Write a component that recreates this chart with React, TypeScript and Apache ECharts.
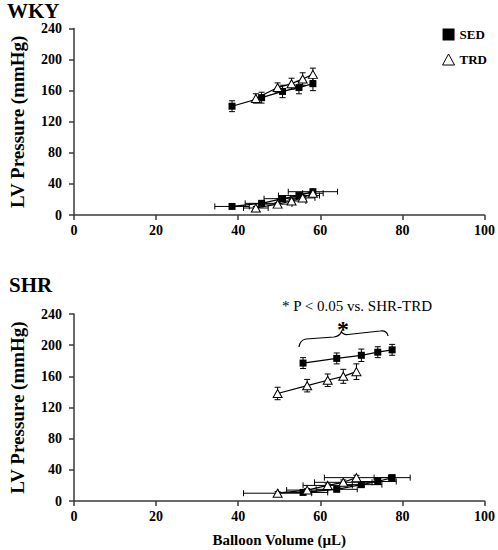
import React, { useEffect, useRef } from "react";
import * as echarts from "echarts";

// ---------- Data ----------
const volumeRange = [0, 100];
const volumeInterval = 20;
const pressureRange = [0, 240];
const pressureInterval = 40;

// WKY – sedentary
const wkySedVolume = [38.5, 45.7, 50.8, 54.8, 58.2];
const wkySedVolumeErr = [4.2, 4.0, 4.5, 5.0, 6.0];
const wkySedSystolic = [140, 151, 159, 164, 169];
const wkySedSystolicErr = [7, 7, 8, 8, 9];
const wkySedDiastolic = [11, 15, 21, 25, 30];
const wkySedDiastolicErr = [2, 2, 2, 3, 3];

// WKY – trained
const wkyTrdVolume = [44.3, 49.6, 53.0, 55.7, 58.2];
const wkyTrdVolumeErr = [3.0, 3.5, 3.5, 3.0, 2.5];
const wkyTrdSystolic = [150, 164, 169, 175, 181];
const wkyTrdSystolicErr = [6, 6, 7, 8, 8];
const wkyTrdDiastolic = [9, 14, 18, 22, 28];
const wkyTrdDiastolicErr = [2, 2, 2, 3, 3];

// SHR – sedentary
const shrSedVolume = [55.8, 64.0, 70.0, 74.0, 77.5];
const shrSedVolumeErr = [6.0, 5.0, 5.0, 4.5, 4.4];
const shrSedSystolic = [177, 183, 187, 191, 194];
const shrSedSystolicErr = [7, 7, 8, 7, 7];
const shrSedDiastolic = [11, 15, 21, 25, 30];
const shrSedDiastolicErr = [2, 2, 2, 3, 3];

// SHR – trained
const shrTrdVolume = [49.6, 56.8, 61.8, 65.6, 68.8];
const shrTrdVolumeErr = [8.3, 5.0, 6.0, 7.0, 7.8];
const shrTrdSystolic = [138, 148, 155, 160, 166];
const shrTrdSystolicErr = [8, 8, 8, 9, 10];
const shrTrdDiastolic = [10, 14, 20, 24, 30];
const shrTrdDiastolicErr = [2, 2, 2, 3, 3];

const panelTitles = ["WKY", "SHR"];
const groupNames = ["SED", "TRD"];
const yAxisTitle = "LV Pressure (mmHg)";
const xAxisTitle = "Balloon Volume (µL)";
const annotationText = "* P < 0.05 vs. SHR-TRD";

// ---------- helpers ----------
const SERIF = "'Liberation Serif', 'Times New Roman', serif";

const pts = (xs: number[], ys: number[]) => xs.map((x, i) => [x, ys[i]]);
const errPts = (xs: number[], ys: number[], xe: number[] | null, ye: number[] | null) =>
  xs.map((x, i) => [x, ys[i], xe ? xe[i] : 0, ye ? ye[i] : 0]);

const errorRenderItem = (params: any, api: any) => {
  const x = api.value(0);
  const y = api.value(1);
  const xe = api.value(2);
  const ye = api.value(3);
  const style = { stroke: "#000", lineWidth: 1 };
  const cap = 3;
  const children: any[] = [];
  if (ye > 0) {
    const t = api.coord([x, y + ye]);
    const b = api.coord([x, y - ye]);
    children.push({ type: "line", shape: { x1: t[0], y1: t[1], x2: b[0], y2: b[1] }, style });
    children.push({ type: "line", shape: { x1: t[0] - cap, y1: t[1], x2: t[0] + cap, y2: t[1] }, style });
    children.push({ type: "line", shape: { x1: b[0] - cap, y1: b[1], x2: b[0] + cap, y2: b[1] }, style });
  }
  if (xe > 0) {
    const l = api.coord([x - xe, y]);
    const r = api.coord([x + xe, y]);
    children.push({ type: "line", shape: { x1: l[0], y1: l[1], x2: r[0], y2: r[1] }, style });
    children.push({ type: "line", shape: { x1: l[0], y1: l[1] - cap, x2: l[0], y2: l[1] + cap }, style });
    children.push({ type: "line", shape: { x1: r[0], y1: r[1] - cap, x2: r[0], y2: r[1] + cap }, style });
  }
  return { type: "group", children };
};

const sedLine = (data: number[][], idx: number) => ({
  type: "line",
  name: groupNames[0],
  xAxisIndex: idx,
  yAxisIndex: idx,
  data,
  symbol: "rect",
  symbolSize: 7,
  itemStyle: { color: "#000", borderColor: "#000", borderWidth: 0 },
  lineStyle: { color: "#000", width: 1.2 },
  z: 5,
});

const trdLine = (data: number[][], idx: number) => ({
  type: "line",
  name: groupNames[1],
  xAxisIndex: idx,
  yAxisIndex: idx,
  data,
  symbol: "triangle",
  symbolSize: [9, 8],
  itemStyle: { color: "#fff", borderColor: "#000", borderWidth: 1 },
  lineStyle: { color: "#000", width: 1.2 },
  z: 6,
});

const errSeries = (data: number[][], idx: number) => ({
  type: "custom",
  xAxisIndex: idx,
  yAxisIndex: idx,
  data,
  renderItem: errorRenderItem,
  encode: { x: 0, y: 1 },
  silent: true,
  z: 3,
});

const axisLineStyle = { lineStyle: { color: "#3a3a3a", width: 1.5 } };
const tickStyle = { show: true, inside: false, length: 5, lineStyle: { color: "#3a3a3a", width: 1.5 } };
const labelStyle = { color: "#000", fontFamily: SERIF, fontWeight: "bold" as const, fontSize: 14 };

const makeXAxis = (idx: number, withName: boolean) => ({
  type: "value",
  gridIndex: idx,
  min: volumeRange[0],
  max: volumeRange[1],
  interval: volumeInterval,
  axisLine: { show: true, ...axisLineStyle },
  axisTick: tickStyle,
  splitLine: { show: false },
  axisLabel: { ...labelStyle, margin: 8 },
  name: withName ? xAxisTitle : "",
  nameLocation: "middle",
  nameGap: 31,
  nameTextStyle: { color: "#000", fontFamily: SERIF, fontWeight: "bold", fontSize: 15 },
});

const makeYAxis = (idx: number) => ({
  type: "value",
  gridIndex: idx,
  min: pressureRange[0],
  max: pressureRange[1],
  interval: pressureInterval,
  axisLine: { show: true, ...axisLineStyle },
  axisTick: tickStyle,
  splitLine: { show: false },
  axisLabel: { ...labelStyle, margin: 12 },
  name: yAxisTitle,
  nameLocation: "middle",
  nameRotate: 90,
  nameGap: 47,
  nameTextStyle: { color: "#000", fontFamily: SERIF, fontWeight: "bold", fontSize: 19 },
});

const bracePath =
  "M299,347 Q300,340 306,339 L334,337 Q340,336 341.5,331.5 Q343,335 348,334.5 L380,331 Q387,330 388,336";

let braceRegistered = false;

export default function App() {
  const ref = useRef<HTMLDivElement>(null);

  useEffect(() => {
    if (!ref.current) return;
    if (!braceRegistered) {
      echarts.graphic.registerShape("brace", echarts.graphic.extendPath(bracePath, {}));
      braceRegistered = true;
    }
    const chart = echarts.init(ref.current, null, { renderer: "svg" });

    const option: any = {
      animation: false,
      backgroundColor: "#fff",
      textStyle: { fontFamily: SERIF },
      title: [
        {
          text: panelTitles[0],
          left: 2,
          top: -5,
          textStyle: { fontFamily: SERIF, fontWeight: "bold", fontSize: 21, color: "#000" },
        },
        {
          text: panelTitles[1],
          left: 4,
          top: 269,
          textStyle: { fontFamily: SERIF, fontWeight: "bold", fontSize: 21, color: "#000" },
        },
      ],
      legend: {
        orient: "vertical",
        right: 6,
        top: 23,
        itemGap: 12,
        itemWidth: 12,
        itemHeight: 12,
        textStyle: { fontFamily: SERIF, fontWeight: "bold", fontSize: 13, color: "#000" },
        data: [
          { name: groupNames[0], icon: "rect", itemStyle: { color: "#000" } },
          {
            name: groupNames[1],
            icon: "path://M6,0L12,11L0,11Z",
            itemStyle: { color: "#fff", borderColor: "#000", borderWidth: 1 },
          },
        ],
      },
      grid: [
        { left: 67, right: 12, top: 28.5, height: 186.5 },
        { left: 67, right: 12, top: 314, height: 187 },
      ],
      xAxis: [makeXAxis(0, false), makeXAxis(1, true)],
      yAxis: [makeYAxis(0), makeYAxis(1)],
      series: [
        // WKY
        errSeries(errPts(wkySedVolume, wkySedSystolic, null, wkySedSystolicErr), 0),
        errSeries(errPts(wkyTrdVolume, wkyTrdSystolic, null, wkyTrdSystolicErr), 0),
        errSeries(errPts(wkySedVolume, wkySedDiastolic, wkySedVolumeErr, wkySedDiastolicErr), 0),
        errSeries(errPts(wkyTrdVolume, wkyTrdDiastolic, wkyTrdVolumeErr, wkyTrdDiastolicErr), 0),
        sedLine(pts(wkySedVolume, wkySedSystolic), 0),
        trdLine(pts(wkyTrdVolume, wkyTrdSystolic), 0),
        sedLine(pts(wkySedVolume, wkySedDiastolic), 0),
        trdLine(pts(wkyTrdVolume, wkyTrdDiastolic), 0),
        // SHR
        errSeries(errPts(shrSedVolume, shrSedSystolic, null, shrSedSystolicErr), 1),
        errSeries(errPts(shrTrdVolume, shrTrdSystolic, null, shrTrdSystolicErr), 1),
        errSeries(errPts(shrSedVolume, shrSedDiastolic, shrSedVolumeErr, shrSedDiastolicErr), 1),
        errSeries(errPts(shrTrdVolume, shrTrdDiastolic, shrTrdVolumeErr, shrTrdDiastolicErr), 1),
        sedLine(pts(shrSedVolume, shrSedSystolic), 1),
        trdLine(pts(shrTrdVolume, shrTrdSystolic), 1),
        sedLine(pts(shrSedVolume, shrSedDiastolic), 1),
        trdLine(pts(shrTrdVolume, shrTrdDiastolic), 1),
      ],
      graphic: [
        {
          type: "text",
          left: 282,
          top: 298,
          style: { text: annotationText, fontFamily: SERIF, fontSize: 15, fill: "#000" },
        },
        {
          type: "text",
          x: 343,
          y: 329,
          style: {
            text: "*",
            fontFamily: SERIF,
            fontSize: 24,
            fontWeight: "bold",
            fill: "#000",
            align: "center",
            verticalAlign: "middle",
          },
        },
        {
          type: "brace",
          x: 0,
          y: 0,
          style: { stroke: "#000", fill: "none", lineWidth: 1.2 },
        },
      ],
    };

    chart.setOption(option);
    return () => chart.dispose();
  }, []);

  return (
    <div
      ref={ref}
      style={{ position: "fixed", left: 0, top: 0, width: 498, height: 550, background: "#fff" }}
    />
  );
}
